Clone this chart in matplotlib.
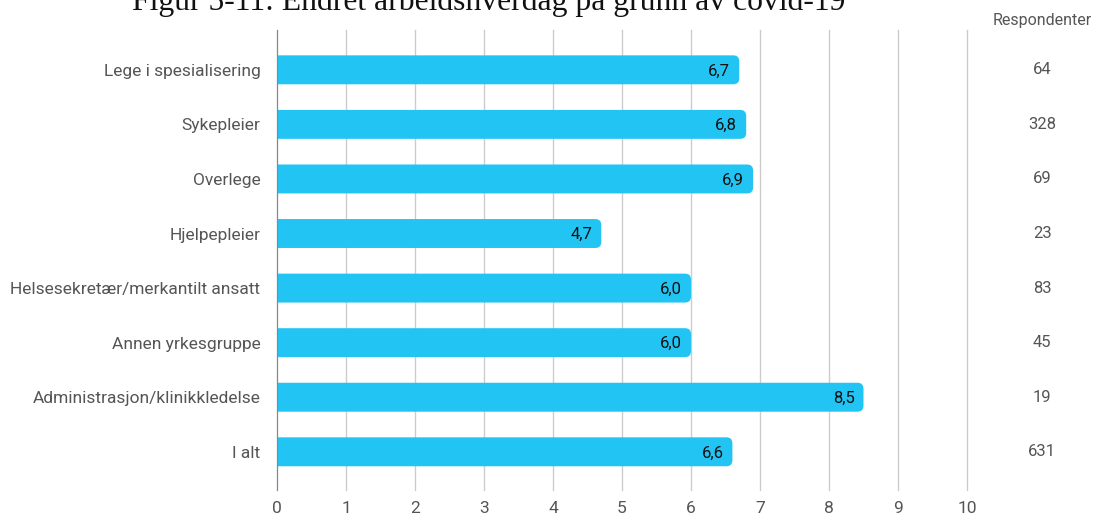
import matplotlib.pyplot as plt
from matplotlib.patches import FancyBboxPatch

categories = ['Lege i spesialisering', 'Sykepleier', 'Overlege', 'Hjelpepleier',
              'Helsesekretær/merkantilt ansatt', 'Annen yrkesgruppe',
              'Administrasjon/klinikkledelse', 'I alt']
values = [6.7, 6.8, 6.9, 4.7, 6.0, 6.0, 8.5, 6.6]
respondents = [64, 328, 69, 23, 83, 45, 19, 631]

bar_color = '#22c4f3'
text_color = '#555555'
plt.rcParams['font.family'] = ['Roboto', 'DejaVu Sans']

fig = plt.figure(figsize=(11.06, 5.16), dpi=100)
ax = fig.add_axes([0.2505, 0.0504, 0.6238, 0.8915])

ax.set_xlim(0, 10)
ax.set_ylim(7.70, -0.73)

bar_h = 0.53
# rounded right end; left end starts outside the axes and is clipped at 0
px_x = 69.0
px_y = 54.6
r = 6 / px_x
for i, v in enumerate(values):
    ax.add_patch(FancyBboxPatch((-1, i - bar_h / 2), v + 1, bar_h,
                                boxstyle=f"round,pad=0,rounding_size={r}",
                                mutation_aspect=px_x / px_y,
                                fc=bar_color, ec='none', zorder=3))
    ax.text(v - 0.13, i + 0.02, f"{v:.1f}".replace('.', ','), ha='right', va='center',
            fontsize=12, color='#111111', zorder=4)
    ax.text(11.09, i, str(respondents[i]), ha='center', va='center',
            fontsize=12, color=text_color, clip_on=False)

ax.text(11.09, -0.91, 'Respondenter', ha='center', va='center',
        fontsize=11.5, color=text_color, clip_on=False)

ax.set_xticks(range(0, 11))
ax.set_yticks(range(len(categories)))
ax.set_yticklabels(categories)
ax.grid(axis='x', color='#cccccc', linewidth=1, zorder=0)
for gl in ax.get_xgridlines():
    gl.set_clip_on(False)
ax.tick_params(axis='x', length=0, colors=text_color, labelsize=12.5, pad=8)
ax.tick_params(axis='y', length=0, colors=text_color, labelsize=12.5, pad=12)
for s in ['top', 'right', 'bottom']:
    ax.spines[s].set_visible(False)
ax.spines['left'].set_color('#888888')
ax.spines['left'].set_zorder(5)

fig.text(0.4415, 1 - 10 / 516, 'Figur 5-11: Endret arbeidshverdag på grunn av covid-19',
         ha='center', va='baseline', fontsize=22.8, family='Liberation Serif', color='#111111')

fig.savefig('out.png', dpi=100)
